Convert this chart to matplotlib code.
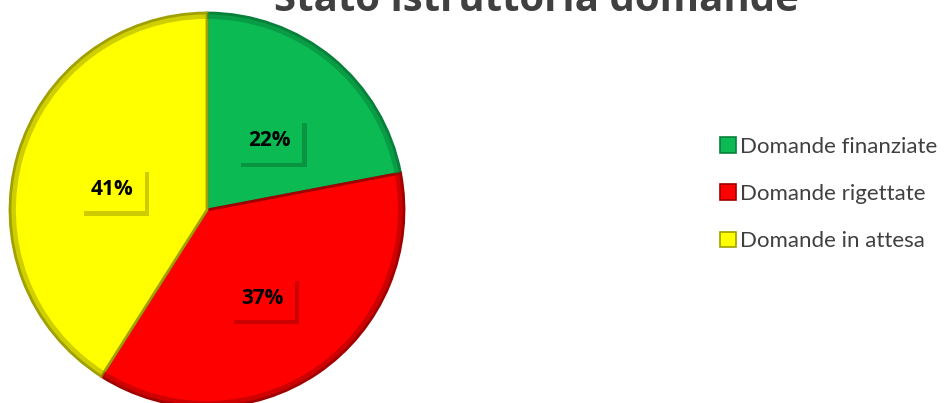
import matplotlib
matplotlib.use("Agg")
import matplotlib.pyplot as plt
from matplotlib.patches import Rectangle, Wedge
import matplotlib.patheffects as pe

categories = ["Domande finanziate", "Domande rigettate", "Domande in attesa"]
values = [22, 37, 41]
colors = ["#0BBA52", "#FF0000", "#FFFF00"]
dark = ["#07803A", "#A00000", "#A0A000"]
title = "Stato istruttoria domande"

W, H = 953, 403
fig = plt.figure(figsize=(W/100, H/100), dpi=100)
cx, cy, R = 207, 210, 197
ax = fig.add_axes([(cx-R)/W, (H-cy-R)/H, 2*R/W, 2*R/H])

wedges, texts, autotexts = ax.pie(values, colors=colors, startangle=90, counterclock=False,
                                  radius=1, autopct='%d%%', pctdistance=0.5,
                                  wedgeprops=dict(linewidth=0))
ax.set_xlim(-1, 1); ax.set_ylim(-1, 1)
ax.set_aspect('equal'); ax.axis('off')
for w, d in zip(wedges, dark):
    w.set_edgecolor(d); w.set_linewidth(2.0)
# bevel rim
for w, d in zip(wedges, dark):
    ax.add_patch(Wedge((0, 0), 1.0, w.theta1, w.theta2, width=0.03,
                       facecolor=d, edgecolor='none', alpha=0.5))
for t, c in zip(autotexts, colors):
    x, y = t.get_position()
    t.set_position((x, y - 0.035))
    t.set_fontsize(15); t.set_fontweight('bold'); t.set_color('black')
    t.set_family('Open Sans')
    t.set_bbox(dict(boxstyle='square,pad=0.55', facecolor=c, edgecolor='none',
                    path_effects=[pe.SimplePatchShadow(offset=(3, -3), shadow_rgbFace='black', alpha=0.2),
                                  pe.Normal()]))

fig.text(536/W, 1 - 11/H, title, ha='center', va='baseline', fontsize=29,
         fontweight='bold', color='#404040', family='Open Sans')

handles = [Rectangle((0, 0), 1, 1, facecolor=c, edgecolor=d, linewidth=1.2) for c, d in zip(colors, dark)]
leg = fig.legend(handles, categories, loc='center left', bbox_to_anchor=(720/W, 1 - 194/H),
                 frameon=False, handlelength=0.7, handleheight=0.7,
                 handletextpad=0.2, labelspacing=1.22, borderpad=0, borderaxespad=0,
                 prop=dict(family='Lato', size=16))
for t in leg.get_texts():
    t.set_color('#404040')

fig.savefig('out.png', dpi=100)
